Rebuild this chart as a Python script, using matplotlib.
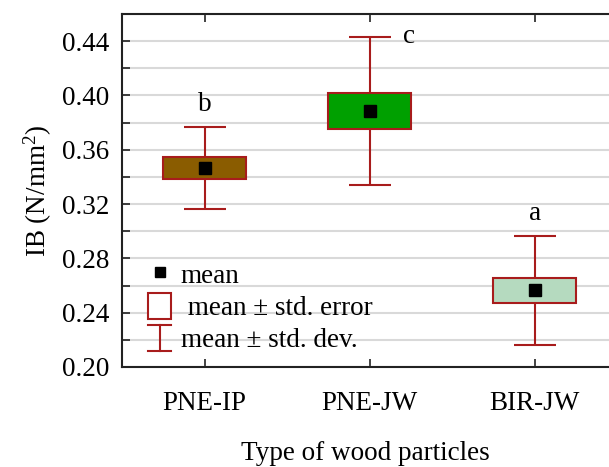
"""Internal bond (IB) by type of wood particles: mean, std. error box, std. dev. whiskers."""
import matplotlib
matplotlib.use("Agg")
import matplotlib.pyplot as plt
from matplotlib.patches import Rectangle
from matplotlib.lines import Line2D
from matplotlib.legend_handler import HandlerBase
from matplotlib.ticker import MultipleLocator
import numpy as np

LABELS = ["PNE-IP", "PNE-JW", "BIR-JW"]
MEANS = [0.3467, 0.3888, 0.2565]
STD_ERR = [0.0083, 0.0132, 0.0092]
STD_DEV = [0.0303, 0.0545, 0.0402]
GROUPS = ["b", "c", "a"]
FILLS = ["#8a5c00", "#00a000", "#b5dabf"]

EDGE = "#a81c1c"
FONT = "Liberation Serif"

plt.rcParams["font.family"] = [FONT, "DejaVu Serif"]
plt.rcParams["mathtext.fontset"] = "custom"
plt.rcParams["mathtext.rm"] = FONT
plt.rcParams["mathtext.it"] = FONT + ":italic"
FS = 19.5


class BoxHandler(HandlerBase):
    def create_artists(self, legend, orig_handle, xdescent, ydescent,
                       width, height, fontsize, trans):
        r = Rectangle((-xdescent, -ydescent), width, height, facecolor="white",
                      edgecolor=EDGE, lw=1.5, transform=trans)
        return [r]


class WhiskerHandler(HandlerBase):
    def create_artists(self, legend, orig_handle, xdescent, ydescent,
                       width, height, fontsize, trans):
        x0, y0 = -xdescent, -ydescent
        xc = x0 + width / 2
        kw = dict(color=EDGE, lw=1.5, transform=trans)
        return [Line2D([xc, xc], [y0, y0 + height], **kw),
                Line2D([x0, x0 + width], [y0, y0], **kw),
                Line2D([x0, x0 + width], [y0 + height, y0 + height], **kw)]


class WhiskerKey:
    pass


fig = plt.figure(figsize=(6.09, 4.67), dpi=100)
ax = fig.add_axes([122 / 609, 100 / 467, 487 / 609, 353 / 467])

x = np.arange(1, len(LABELS) + 1)
means = np.array(MEANS)
se = np.array(STD_ERR)
sd = np.array(STD_DEV)

ax.errorbar(x, means, yerr=sd, fmt="none", ecolor=EDGE, elinewidth=1.5,
            capsize=15, capthick=1.5, zorder=2)
ax.bar(x, 2 * se, bottom=means - se, width=0.5, color=FILLS, edgecolor=EDGE,
       linewidth=1.5, zorder=3)
ax.plot(x, means, "s", color="black", markersize=8.5, zorder=4)

# significance letters
for xi, m, s, g in zip(x, means, sd, GROUPS):
    if g == "c":
        ax.annotate(g, (xi, m + s), xytext=(28, 0), textcoords="offset points",
                    ha="center", va="center", fontsize=FS)
    else:
        ax.annotate(g, (xi, m + s), xytext=(0, 7), textcoords="offset points",
                    ha="center", va="bottom", fontsize=FS)

ax.set_xlim(0.5, 3.45)
ax.set_ylim(0.20, 0.46)
ax.yaxis.set_minor_locator(MultipleLocator(0.02))
yt = np.arange(0.20, 0.441, 0.04)
ax.set_yticks(yt)
ax.set_yticklabels([f"{v:.2f}" for v in yt])
ax.set_xticks(x)
ax.set_xticklabels(LABELS)
ax.grid(axis="y", which="both", color="#d9d9d9", lw=1.5)
ax.set_axisbelow(True)

ax.tick_params(axis="both", which="both", direction="in", labelsize=FS,
               width=1.2, color="#222222")
ax.tick_params(axis="x", top=True, length=6, pad=17)
ax.tick_params(axis="y", which="major", length=6, pad=9)
ax.tick_params(axis="y", which="minor", length=6)
for side in ["left", "top", "bottom"]:
    ax.spines[side].set_linewidth(1.5)
    ax.spines[side].set_color("#222222")
ax.spines["right"].set_visible(False)

ax.set_xlabel("Type of wood particles", fontsize=FS, labelpad=18)
ax.set_ylabel(r"IB (N/mm$^{2}$)", fontsize=FS, labelpad=6)

mean_h = Line2D([], [], marker="s", color="black", ls="none", markersize=7)
box_h = Rectangle((0, 0), 1, 1)
wh_h = WhiskerKey()
ax.legend([mean_h, box_h, wh_h],
          ["mean", " mean \u00b1 std. error", "mean \u00b1 std. dev."],
          handler_map={Rectangle: BoxHandler(), WhiskerKey: WhiskerHandler()},
          loc="lower left", bbox_to_anchor=(0.032, 0.008), frameon=False,
          fontsize=FS, handlelength=0.85, handleheight=1.12,
          handletextpad=0.35, labelspacing=0.14, borderaxespad=0)

fig.savefig("out.png", dpi=100)
